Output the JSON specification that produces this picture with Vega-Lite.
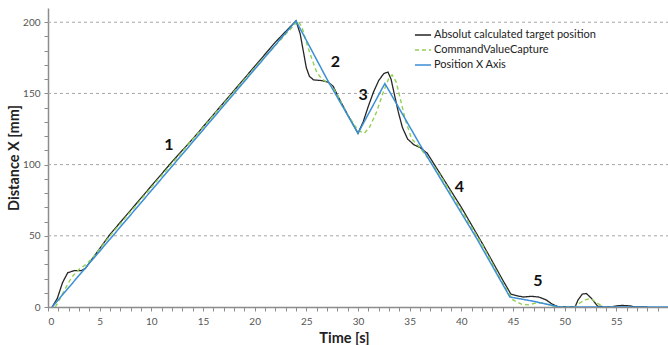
{
  "$schema": "https://vega.github.io/schema/vega-lite/v6.json",
  "width": 620,
  "height": 299,
  "autosize": {"type": "none"},
  "padding": {"left": 48, "top": 8, "right": 0, "bottom": 38},
  "background": "white",
  "config": {
    "view": {"stroke": null},
    "font": "Lato",
    "axis": {"labelFont": "Lato", "titleFont": "Lato"}
  },
  "datasets": {
    "lines": [
      {"s": "Absolut calculated target position", "t": 0.4, "v": 0},
      {"s": "Absolut calculated target position", "t": 0.9, "v": 6},
      {"s": "Absolut calculated target position", "t": 1.4, "v": 17},
      {"s": "Absolut calculated target position", "t": 1.9, "v": 24},
      {"s": "Absolut calculated target position", "t": 2.5, "v": 25.5},
      {"s": "Absolut calculated target position", "t": 3.2, "v": 25.5},
      {"s": "Absolut calculated target position", "t": 3.6, "v": 27},
      {"s": "Absolut calculated target position", "t": 4.0, "v": 31},
      {"s": "Absolut calculated target position", "t": 5.0, "v": 41},
      {"s": "Absolut calculated target position", "t": 6.0, "v": 51},
      {"s": "Absolut calculated target position", "t": 8.0, "v": 68},
      {"s": "Absolut calculated target position", "t": 10.0, "v": 85},
      {"s": "Absolut calculated target position", "t": 12.0, "v": 102},
      {"s": "Absolut calculated target position", "t": 14.0, "v": 118},
      {"s": "Absolut calculated target position", "t": 16.0, "v": 135},
      {"s": "Absolut calculated target position", "t": 18.0, "v": 152},
      {"s": "Absolut calculated target position", "t": 20.0, "v": 169},
      {"s": "Absolut calculated target position", "t": 22.0, "v": 186},
      {"s": "Absolut calculated target position", "t": 24.0, "v": 201},
      {"s": "Absolut calculated target position", "t": 24.4, "v": 192},
      {"s": "Absolut calculated target position", "t": 24.7, "v": 180},
      {"s": "Absolut calculated target position", "t": 25.0, "v": 168},
      {"s": "Absolut calculated target position", "t": 25.3, "v": 162},
      {"s": "Absolut calculated target position", "t": 25.7, "v": 159.5},
      {"s": "Absolut calculated target position", "t": 26.5, "v": 159},
      {"s": "Absolut calculated target position", "t": 27.1, "v": 158},
      {"s": "Absolut calculated target position", "t": 27.6, "v": 155},
      {"s": "Absolut calculated target position", "t": 28.2, "v": 146},
      {"s": "Absolut calculated target position", "t": 29.0, "v": 135},
      {"s": "Absolut calculated target position", "t": 30.0, "v": 122},
      {"s": "Absolut calculated target position", "t": 30.5, "v": 130},
      {"s": "Absolut calculated target position", "t": 31.0, "v": 141},
      {"s": "Absolut calculated target position", "t": 31.5, "v": 151},
      {"s": "Absolut calculated target position", "t": 32.0, "v": 159},
      {"s": "Absolut calculated target position", "t": 32.5, "v": 164},
      {"s": "Absolut calculated target position", "t": 32.9, "v": 165},
      {"s": "Absolut calculated target position", "t": 33.2, "v": 160},
      {"s": "Absolut calculated target position", "t": 33.5, "v": 150},
      {"s": "Absolut calculated target position", "t": 33.9, "v": 137},
      {"s": "Absolut calculated target position", "t": 34.3, "v": 126},
      {"s": "Absolut calculated target position", "t": 34.8, "v": 118},
      {"s": "Absolut calculated target position", "t": 35.4, "v": 114},
      {"s": "Absolut calculated target position", "t": 36.0, "v": 112},
      {"s": "Absolut calculated target position", "t": 36.7, "v": 108},
      {"s": "Absolut calculated target position", "t": 38.0, "v": 93},
      {"s": "Absolut calculated target position", "t": 40.0, "v": 70},
      {"s": "Absolut calculated target position", "t": 42.0, "v": 45},
      {"s": "Absolut calculated target position", "t": 44.0, "v": 19},
      {"s": "Absolut calculated target position", "t": 44.8, "v": 9},
      {"s": "Absolut calculated target position", "t": 45.3, "v": 8},
      {"s": "Absolut calculated target position", "t": 46.0, "v": 7},
      {"s": "Absolut calculated target position", "t": 46.8, "v": 7.5},
      {"s": "Absolut calculated target position", "t": 47.5, "v": 7},
      {"s": "Absolut calculated target position", "t": 48.2, "v": 5},
      {"s": "Absolut calculated target position", "t": 48.8, "v": 2},
      {"s": "Absolut calculated target position", "t": 49.3, "v": 0.3},
      {"s": "Absolut calculated target position", "t": 51.0, "v": 0},
      {"s": "Absolut calculated target position", "t": 51.3, "v": 5},
      {"s": "Absolut calculated target position", "t": 51.7, "v": 9},
      {"s": "Absolut calculated target position", "t": 52.1, "v": 9.5},
      {"s": "Absolut calculated target position", "t": 52.6, "v": 6},
      {"s": "Absolut calculated target position", "t": 53.2, "v": 0.5},
      {"s": "Absolut calculated target position", "t": 54.5, "v": 0},
      {"s": "Absolut calculated target position", "t": 55.0, "v": 0.8},
      {"s": "Absolut calculated target position", "t": 55.6, "v": 1.1},
      {"s": "Absolut calculated target position", "t": 56.3, "v": 0.8},
      {"s": "Absolut calculated target position", "t": 56.8, "v": 0},
      {"s": "Absolut calculated target position", "t": 58.0, "v": 0},

      {"s": "CommandValueCapture", "t": 0.7, "v": 0},
      {"s": "CommandValueCapture", "t": 1.0, "v": 3.5},
      {"s": "CommandValueCapture", "t": 1.6, "v": 12},
      {"s": "CommandValueCapture", "t": 2.3, "v": 21},
      {"s": "CommandValueCapture", "t": 3.1, "v": 27},
      {"s": "CommandValueCapture", "t": 3.7, "v": 30},
      {"s": "CommandValueCapture", "t": 4.5, "v": 36},
      {"s": "CommandValueCapture", "t": 6.0, "v": 50},
      {"s": "CommandValueCapture", "t": 10.0, "v": 84},
      {"s": "CommandValueCapture", "t": 15.0, "v": 126},
      {"s": "CommandValueCapture", "t": 20.0, "v": 168},
      {"s": "CommandValueCapture", "t": 24.2, "v": 201},
      {"s": "CommandValueCapture", "t": 24.6, "v": 196},
      {"s": "CommandValueCapture", "t": 25.0, "v": 186},
      {"s": "CommandValueCapture", "t": 25.4, "v": 177},
      {"s": "CommandValueCapture", "t": 26.0, "v": 165},
      {"s": "CommandValueCapture", "t": 26.5, "v": 160},
      {"s": "CommandValueCapture", "t": 27.0, "v": 158},
      {"s": "CommandValueCapture", "t": 27.5, "v": 155},
      {"s": "CommandValueCapture", "t": 28.0, "v": 149},
      {"s": "CommandValueCapture", "t": 29.0, "v": 135},
      {"s": "CommandValueCapture", "t": 30.0, "v": 124},
      {"s": "CommandValueCapture", "t": 30.6, "v": 122},
      {"s": "CommandValueCapture", "t": 31.1, "v": 126},
      {"s": "CommandValueCapture", "t": 31.8, "v": 137},
      {"s": "CommandValueCapture", "t": 32.4, "v": 150},
      {"s": "CommandValueCapture", "t": 33.0, "v": 161},
      {"s": "CommandValueCapture", "t": 33.3, "v": 163},
      {"s": "CommandValueCapture", "t": 33.7, "v": 158},
      {"s": "CommandValueCapture", "t": 34.1, "v": 146},
      {"s": "CommandValueCapture", "t": 34.6, "v": 131},
      {"s": "CommandValueCapture", "t": 35.2, "v": 118},
      {"s": "CommandValueCapture", "t": 36.0, "v": 112},
      {"s": "CommandValueCapture", "t": 38.0, "v": 92},
      {"s": "CommandValueCapture", "t": 40.0, "v": 68},
      {"s": "CommandValueCapture", "t": 42.0, "v": 44},
      {"s": "CommandValueCapture", "t": 44.0, "v": 17},
      {"s": "CommandValueCapture", "t": 45.0, "v": 5},
      {"s": "CommandValueCapture", "t": 45.8, "v": 2},
      {"s": "CommandValueCapture", "t": 46.5, "v": 1.5},
      {"s": "CommandValueCapture", "t": 47.3, "v": 3},
      {"s": "CommandValueCapture", "t": 48.0, "v": 2.5},
      {"s": "CommandValueCapture", "t": 49.0, "v": 0.5},
      {"s": "CommandValueCapture", "t": 49.5, "v": 0},
      {"s": "CommandValueCapture", "t": 51.0, "v": 0},
      {"s": "CommandValueCapture", "t": 51.5, "v": 3},
      {"s": "CommandValueCapture", "t": 52.0, "v": 5},
      {"s": "CommandValueCapture", "t": 52.5, "v": 6},
      {"s": "CommandValueCapture", "t": 53.1, "v": 3},
      {"s": "CommandValueCapture", "t": 53.7, "v": 0},
      {"s": "CommandValueCapture", "t": 55.0, "v": 0},

      {"s": "Position X Axis", "t": 0.4, "v": 0},
      {"s": "Position X Axis", "t": 24.0, "v": 201},
      {"s": "Position X Axis", "t": 27.0, "v": 160},
      {"s": "Position X Axis", "t": 30.0, "v": 122},
      {"s": "Position X Axis", "t": 32.6, "v": 157},
      {"s": "Position X Axis", "t": 36.0, "v": 114},
      {"s": "Position X Axis", "t": 41.5, "v": 48},
      {"s": "Position X Axis", "t": 44.7, "v": 7},
      {"s": "Position X Axis", "t": 45.5, "v": 6},
      {"s": "Position X Axis", "t": 47.0, "v": 4},
      {"s": "Position X Axis", "t": 49.5, "v": 0},
      {"s": "Position X Axis", "t": 60.0, "v": 0}
    ],
    "labels": [
      {"t": 11.7, "v": 114, "txt": "1"},
      {"t": 27.8, "v": 172, "txt": "2"},
      {"t": 30.5, "v": 149, "txt": "3"},
      {"t": 39.8, "v": 84, "txt": "4"},
      {"t": 47.4, "v": 18.5, "txt": "5"}
    ],
    "grid": [
      {"t": 0, "t2": 60, "v": 50},
      {"t": 0, "t2": 60, "v": 100},
      {"t": 0, "t2": 60, "v": 150},
      {"t": 0, "t2": 60, "v": 200}
    ]
  },
  "encoding": {
    "x": {
      "field": "t", "type": "quantitative",
      "scale": {"domain": [0, 60], "nice": false, "zero": false},
      "axis": {
        "title": "Time [s]",
        "titleFontSize": 14.5, "titleFontWeight": "bold", "titleColor": "#222",
        "titleX": 296, "titlePadding": 5,
        "values": [0,1,2,3,4,5,6,7,8,9,10,11,12,13,14,15,16,17,18,19,20,21,22,23,24,25,26,27,28,29,30,31,32,33,34,35,36,37,38,39,40,41,42,43,44,45,46,47,48,49,50,51,52,53,54,55,56,57,58,59],
        "labelExpr": "datum.value % 5 === 0 ? datum.label : ''",
        "labelOverlap": false,
        "labelFontSize": 10, "labelColor": "#555", "labelPadding": 5,
        "grid": false,
        "ticks": true,
        "domainColor": "#8c8c8c", "domainWidth": 1.5,
        "tickColor": "#8c8c8c", "tickSize": 4, "tickWidth": 1, "tickOpacity": 1
      }
    },
    "y": {
      "field": "v", "type": "quantitative",
      "scale": {"domain": [0, 210], "nice": false},
      "axis": {
        "title": "Distance  X [mm]",
        "titleFontSize": 14.5, "titleFontWeight": "bold", "titleColor": "#222",
        "titlePadding": 1,
        "values": [0,10,20,30,40,50,60,70,80,90,100,110,120,130,140,150,160,170,180,190,200],
        "labelExpr": "datum.value % 50 === 0 ? datum.label : ''",
        "labelOverlap": false,
        "labelFontSize": 10, "labelColor": "#555", "labelPadding": 4,
        "grid": false,
        "ticks": true,
        "domainColor": "#8c8c8c", "domainWidth": 1.5,
        "tickColor": "#8c8c8c", "tickSize": 4, "tickWidth": 1, "tickOpacity": 1
      }
    }
  },
  "layer": [
    {
      "data": {"name": "grid"},
      "mark": {"type": "rule", "color": "#a6a6a6", "strokeDash": [3, 3], "strokeWidth": 1},
      "encoding": {
        "x2": {"field": "t2"}
      }
    },
    {
      "data": {"name": "lines"},
      "mark": {"type": "line", "clip": true},
      "encoding": {
        "color": {
          "field": "s", "type": "nominal",
          "scale": {
            "domain": ["Absolut calculated target position", "CommandValueCapture", "Position X Axis"],
            "range": ["#262626", "#92d050", "#3a8fd6"]
          },
          "legend": {
            "title": null,
            "orient": "none",
            "legendX": 366,
            "legendY": 18,
            "symbolType": "stroke",
            "symbolSize": 260,
            "symbolStrokeWidth": 1.5,
            "labelFontSize": 11,
            "labelColor": "#222",
            "labelFont": "Lato",
            "labelLimit": 300,
            "rowPadding": 1,
            "labelOffset": 2
          }
        },
        "strokeDash": {
          "field": "s", "type": "nominal",
          "scale": {
            "domain": ["Absolut calculated target position", "CommandValueCapture", "Position X Axis"],
            "range": [[1, 0], [4, 3], [1, 0]]
          },
          "legend": null
        },
        "strokeWidth": {
          "field": "s", "type": "nominal",
          "scale": {
            "domain": ["Absolut calculated target position", "CommandValueCapture", "Position X Axis"],
            "range": [1.3, 1.5, 1.8]
          },
          "legend": null
        },
        "order": {"field": "t", "type": "quantitative"}
      }
    },
    {
      "data": {"name": "labels"},
      "mark": {"type": "text", "fontSize": 16, "fontWeight": "bold", "font": "Lato", "color": "#111", "align": "center", "baseline": "middle"},
      "encoding": {
        "text": {"field": "txt", "type": "nominal"}
      }
    }
  ]
}
